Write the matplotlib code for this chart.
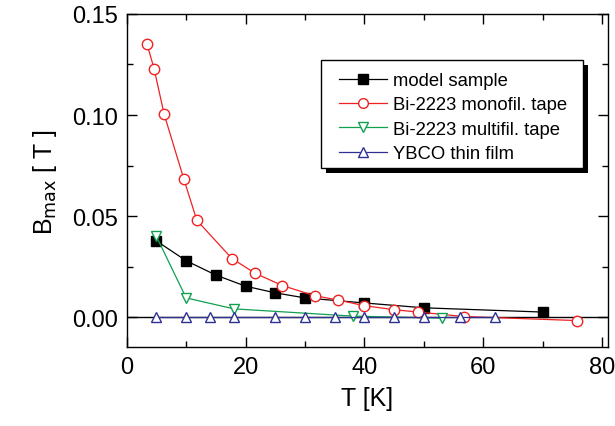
import matplotlib
matplotlib.use("Agg")
import matplotlib.pyplot as plt
from matplotlib.ticker import MultipleLocator, FormatStrFormatter
from matplotlib.patches import Rectangle
import matplotlib.transforms as mtransforms

plt.rcParams["font.family"] = ["Liberation Sans", "DejaVu Sans"]

# model sample
t_model = [5, 10, 15, 20, 25, 30, 40, 50, 70]
b_model = [0.0377, 0.0279, 0.0208, 0.0153, 0.0120, 0.0095, 0.0070, 0.0046, 0.0025]

# Bi-2223 monofilament tape
t_mono = [3.4, 4.6, 6.3, 9.6, 11.8, 17.7, 21.6, 26.2, 31.6, 35.5, 39.9, 44.9, 49.0, 56.7, 75.7]
b_mono = [0.1353, 0.1230, 0.1004, 0.0684, 0.0479, 0.0290, 0.0217, 0.0156, 0.0106,
          0.0085, 0.0057, 0.0037, 0.0025, 0.0003, -0.0017]

# Bi-2223 multifilament tape
t_multi = [5, 10, 18, 38, 53]
b_multi = [0.0399, 0.0095, 0.0041, 0.0005, -0.0005]

# YBCO thin film
t_ybco = [5, 10, 14, 18, 25, 30, 35, 40, 45, 50, 56, 62]
b_ybco = [0.0002] * len(t_ybco)

fig = plt.figure(figsize=(6.15, 4.27), dpi=100)
ax = fig.add_axes([0.206, 0.184, 0.783, 0.781])

ax.axhline(0, color="black", lw=1.0, zorder=1)

ax.plot(t_model, b_model, "-s", color="black", lw=0.9, ms=7.5,
        mfc="black", mec="black", label="model sample", zorder=3)
ax.plot(t_mono, b_mono, "-o", color="#ee2222", lw=0.9, ms=7.5,
        mfc="white", mec="#ee2222", label="Bi-2223 monofil. tape", zorder=4)
ax.plot(t_multi, b_multi, "-v", color="#10a050", lw=0.9, ms=7.5,
        mfc="white", mec="#10a050", label="Bi-2223 multifil. tape", zorder=5)
ax.plot(t_ybco, b_ybco, "-^", color="#2e3192", lw=0.9, ms=7.5,
        mfc="white", mec="#2e3192", label="YBCO thin film", zorder=5)

ax.set_xlim(0, 81)
ax.set_ylim(-0.015, 0.15)
ax.xaxis.set_major_locator(MultipleLocator(20))
ax.xaxis.set_minor_locator(MultipleLocator(10))
ax.yaxis.set_major_locator(MultipleLocator(0.05))
ax.yaxis.set_minor_locator(MultipleLocator(0.025))
ax.yaxis.set_major_formatter(FormatStrFormatter("%.2f"))
ax.tick_params(which="both", direction="in", top=True, right=True, labelsize=17, width=1.0)
ax.tick_params(which="major", length=7, pad=6)
ax.tick_params(which="minor", length=4)
for s in ax.spines.values():
    s.set_linewidth(1.0)

ax.set_xlabel("T [K]", fontsize=18, labelpad=6)
ax.set_ylabel(r"B$_{\mathrm{max}}$ [ T ]", fontsize=18, labelpad=10)

# legend frame with a solid drop shadow, drawn by hand
box_x0, box_y0, box_w, box_h = 0.403, 0.537, 0.545, 0.326
shadow_tf = ax.transAxes + mtransforms.ScaledTranslation(5 / 100, -5 / 100, fig.dpi_scale_trans)
ax.add_patch(Rectangle((box_x0, box_y0), box_w, box_h, transform=shadow_tf,
                       facecolor="black", edgecolor="none", zorder=8))
ax.add_patch(Rectangle((box_x0, box_y0), box_w, box_h, transform=ax.transAxes,
                       facecolor="white", edgecolor="black", lw=1.0, zorder=9))

leg = ax.legend(loc="upper left", bbox_to_anchor=(0.441, 0.826), fontsize=13.3,
                frameon=False, borderpad=0, borderaxespad=0, handlelength=2.6,
                labelspacing=0.4, handletextpad=0.3)
leg.set_zorder(10)
for h in leg.legend_handles:
    h.set_markersize(7)

fig.savefig("out.png", dpi=100)
